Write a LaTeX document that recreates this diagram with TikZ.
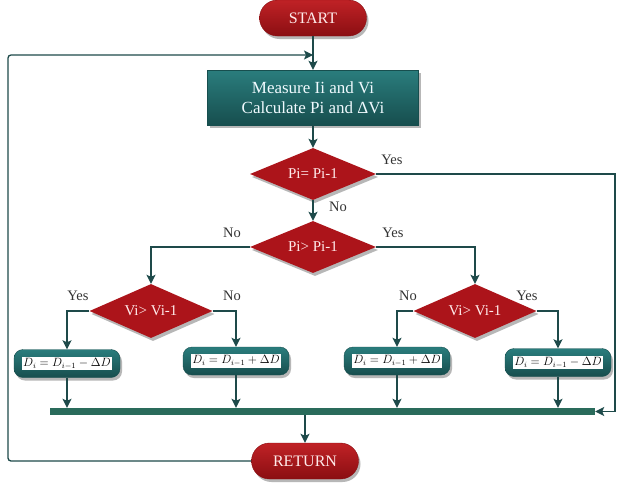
\documentclass[tikz,border=0pt]{standalone}
\usepackage{fontspec}
\setmainfont{Liberation Serif}
\usetikzlibrary{shapes.geometric,shapes.misc,shadows,arrows.meta}
\definecolor{cred}{HTML}{AC141A}
\definecolor{credl}{HTML}{C02226}
\definecolor{credd}{HTML}{8A0E12}
\definecolor{ctealL}{HTML}{2A7D7D}
\definecolor{ctealD}{HTML}{174E4E}
\definecolor{cline}{HTML}{1E4A4A}
\definecolor{cbus}{HTML}{2A6B5B}
\definecolor{ctxt}{HTML}{333333}
\newcommand{\frm}[1]{{\setlength{\fboxsep}{1.5pt}\colorbox{white}{\color{black}\fontsize{11.5}{13}\selectfont #1}}}
\begin{document}
\begin{tikzpicture}[x=1pt,y=-1pt,
  shd/.style={drop shadow={shadow xshift=2pt,shadow yshift=-3pt,opacity=0.4,fill=black!70}},
  term/.style={rounded rectangle, minimum width=107pt, minimum height=36pt, inner sep=0pt,
    top color=credl, bottom color=credd, draw=credd, shd, text=white!92!red,
    font=\fontsize{16}{18}\selectfont},
  proc/.style={rectangle, minimum width=211pt, minimum height=55pt, top color=ctealL,
    bottom color=ctealD, draw=ctealD, shd, text=white!94!cyan, align=center,
    font=\fontsize{17}{20}\selectfont},
  dec/.style={diamond, aspect=2.4, minimum width=126pt, minimum height=52pt, inner sep=0pt,
    fill=cred, shd, text=white!92!red, font=\fontsize{15}{18}\selectfont},
  upd/.style={rectangle, rounded corners=9pt, minimum width=106pt, minimum height=28pt,
    top color=ctealL, bottom color=ctealD, draw=ctealD, shd, inner sep=0pt},
  lab/.style={text=ctxt, font=\fontsize{14.5}{16}\selectfont, inner sep=0pt},
  arr/.style={draw=cline, line width=1.6pt, -{Stealth[length=9pt,width=9pt,inset=2pt]}}
]
\useasboundingbox[fill=white] (0,0) rectangle (617,483);

\node[term] (start) at (313,18) {START};
\node[proc] (meas) at (313,97.5) {Measure Ii and Vi\\Calculate Pi and ΔVi};
\node[dec] (d1) at (313,174) {Pi= Pi-1};
\node[dec] (d2) at (313,247) {Pi> Pi-1};
\node[dec, minimum width=123pt, minimum height=54pt] (d3) at (151,311) {Vi> Vi-1};
\node[dec, minimum width=123pt, minimum height=54pt] (d4) at (475,311) {Vi> Vi-1};
\node[upd] (b1) at (67,363.5) {\frm{$D_i = D_{i-1} - \Delta D$}};
\node[upd] (b2) at (236,361) {\frm{$D_i = D_{i-1} + \Delta D$}};
\node[upd] (b3) at (397,361) {\frm{$D_i = D_{i-1} + \Delta D$}};
\node[upd] (b4) at (558,362.5) {\frm{$D_i = D_{i-1} - \Delta D$}};
\node[fill=cbus, minimum width=545pt, minimum height=7pt, inner sep=0pt] (bus) at (322.5,411.5) {};
\node[term] (ret) at (305,461) {RETURN};

\node[lab] (ly1) at (392,160) {Yes};
\node[lab] (ln1) at (338,207) {No};
\node[lab] (ln2) at (232,233) {No};
\node[lab] (ly2) at (393,233) {Yes};
\node[lab] (ly3) at (78,296) {Yes};
\node[lab] (ln3) at (232,296) {No};
\node[lab] (ln4) at (408,296) {No};
\node[lab] (ly4) at (527,296) {Yes};

\coordinate (rc) at (615,174);
\coordinate (lc) at (8,55);
\coordinate (mj) at (313,55);

\draw[arr] (start) -- (meas);
\draw[arr] (meas) -- (d1);
\draw[arr] (d1) -- (d2);
\draw[arr] (d2.west) -| (d3.north);
\draw[arr] (d2.east) -| (d4.north);
\draw[arr] (d3.west) -| (b1.north);
\draw[arr] (d3.east) -| (b2.north);
\draw[arr] (d4.west) -| (b3.north);
\draw[arr] (d4.east) -| (b4.north);
\draw[arr] (b1.south) -- (b1.south |- bus.north);
\draw[arr] (b2.south) -- (b2.south |- bus.north);
\draw[arr] (b3.south) -- (b3.south |- bus.north);
\draw[arr] (b4.south) -- (b4.south |- bus.north);
\draw[arr] (ret.north |- bus.south) -- (ret.north);
\draw[arr, line width=1.3pt] (d1.east) -- (rc) |- (bus.east);
\draw[arr, line width=1.3pt, rounded corners=3pt] (ret.west) -| (lc) -- (mj);
\end{tikzpicture}
\end{document}
